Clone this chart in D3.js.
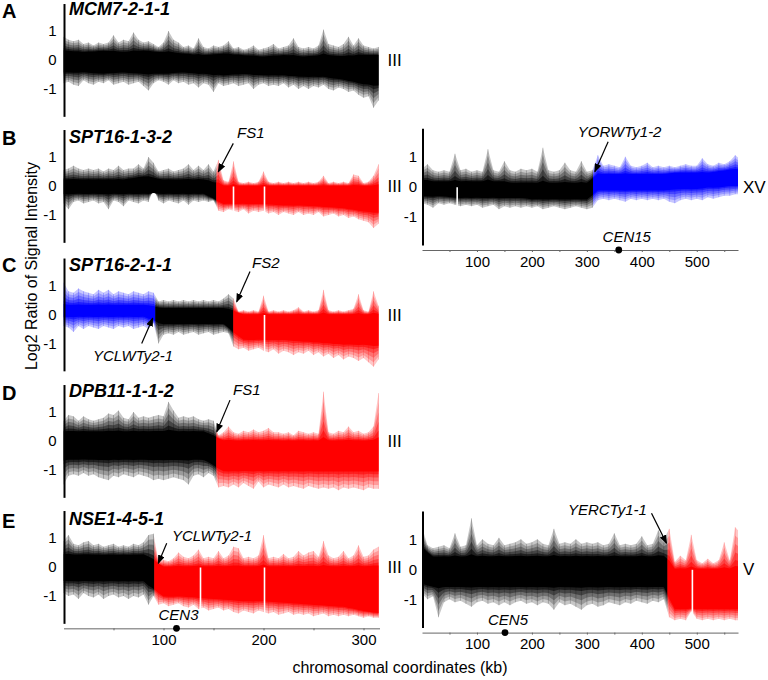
<!DOCTYPE html>
<html lang="en">
<head>
<meta charset="UTF-8">
<title>Log2 signal ratio along chromosomes III, XV and V</title>
<script src="https://d3js.org/d3.v7.min.js"></script>
<style>
body { margin: 0; background: #fff; }
svg text { font-family: Arial, "Liberation Sans", Helvetica, sans-serif; fill: #000; }
.letter { font-size: 20px; font-weight: bold; }
.gene { font-size: 18px; font-weight: bold; font-style: italic; }
.note { font-size: 15px; font-style: italic; }
.chrom { font-size: 17px; }
.title { font-size: 16px; }
.tick text { font-size: 15px; }
</style>
</head>
<body>
<svg width="768" height="680"></svg>
<script>
// Log2 ratio of signal intensity.
// hi / lo = envelope of the probe spikes (every 5 kb on chr III, every 10 kb on chr XV / V)
// coreHi / coreLo = dense part of the signal (every 20 kb)

// A  MCM7-2-1-1, chr III
const aHi = [0.8,0.7,0.65,0.7,0.55,0.6,0.5,0.6,0.55,0.6, 0.85,0.6,0.7,0.65,0.95,0.7,0.6,0.65,0.55,0.45,
  0.6,1.0,0.7,0.6,0.45,0.5,0.4,0.75,0.45,0.4, 0.5,0.45,0.5,0.65,0.4,0.45,0.35,0.4,0.5,0.35,
  0.4,0.45,0.55,0.4,0.45,0.5,0.75,0.45,0.4,0.45, 0.4,0.5,1.05,0.55,0.5,0.45,0.55,0.8,0.5,0.75, 0.5,0.45,0.4,0.45];
const aLo = [-0.8,-0.75,-0.85,-0.9,-0.7,-0.8,-0.85,-0.75,-0.8,-0.7, -0.85,-0.8,-0.75,-0.85,-0.8,-0.75,-0.9,-1.05,-0.8,-0.7,
  -0.75,-0.85,-0.7,-0.8,-0.75,-0.85,-0.8,-0.95,-0.8,-0.85, -1.1,-0.8,-0.9,-0.85,-0.8,-0.9,-0.85,-0.8,-1.0,-0.85,
  -0.8,-0.9,-0.85,-0.9,-0.8,-0.95,-0.85,-1.0,-0.9,-1.0, -0.9,-0.95,-0.85,-1.0,-1.05,-0.95,-1.0,-1.1,-1.05,-1.2, -1.3,-1.25,-1.65,-1.4];
const aCoreHi = [0.3,0.25,0.3,0.25,0.3,0.25,0.2,0.15,0.2,0.15,0.1,0.15,0.1,0.15,0.1,0.15,0.15];
const aCoreLo = [-0.4,-0.4,-0.45,-0.4,-0.45,-0.45,-0.4,-0.45,-0.5,-0.45,-0.5,-0.5,-0.55,-0.55,-0.65,-0.8,-0.85];
const aSegs = [[0, 316, 'k']];

// B  SPT16-1-3-2, chr III
const bHi = [0.55,0.6,0.7,0.6,0.55,0.6,0.55,0.6,0.5,0.6, 0.55,0.7,0.55,0.6,0.6,0.75,0.6,1.0,0.8,0.5,
  0.55,0.6,0.5,0.55,0.6,0.75,0.55,0.7,0.55,0.75, 0.5,0.9,0.2,0.15,0.85,0.15,0.1,0.15,0.1,0.15,
  0.5,0.15,0.1,0.15,0.1,0.15,0.1,0.15,0.1,0.15, 0.1,0.15,0.35,0.1,0.15,0.1,0.15,0.1,0.4,0.35, 0.1,0.15,0.35,0.75];
const bLo = [-0.6,-0.8,-0.55,-0.5,-0.6,-0.55,-0.5,-0.6,-0.55,-0.8, -0.5,-0.55,-0.7,-0.5,-0.55,-0.6,-0.5,-0.55,-0.1,-0.5,
  -0.6,-0.5,-0.55,-0.6,-0.5,-0.65,-0.5,-0.55,-0.5,-0.55, -0.5,-0.85,-0.9,-0.8,-0.85,-0.9,-0.8,-0.95,-0.85,-0.9,
  -0.85,-0.95,-0.9,-1.0,-0.9,-0.95,-1.0,-0.9,-1.0,-0.95, -1.0,-0.9,-1.05,-1.0,-0.95,-1.05,-1.0,-1.1,-1.05,-1.15, -1.2,-1.25,-1.45,-1.3];
const bCoreHi = [0.2,0.2,0.2,0.2,0.3,0.2,0.2,0.2,0,0,0,0,0,0,0,0,0];
const bCoreLo = [-0.25,-0.25,-0.25,-0.25,-0.25,-0.25,-0.25,-0.25,-0.6,-0.6,-0.6,-0.65,-0.65,-0.7,-0.75,-0.85,-0.9];
const bSegs = [[0, 153, 'k'], [153, 316, 'r']];
const bGaps = [170, 201];

// B  SPT16-1-3-2, chr XV
const b2Hi = [0.6,0.75,0.55,0.5,0.55,0.5,1.1,0.55,0.6,0.5, 0.55,0.5,1.25,0.55,0.5,0.85,0.55,0.5,0.6,0.55,
  0.6,0.5,1.3,0.55,0.5,0.55,0.8,0.55,0.5,0.85, 0.5,0.55,1.05,0.7,0.75,0.7,0.65,1.0,0.7,0.65,
  0.7,0.8,0.65,0.7,0.65,0.7,0.65,0.7,0.75,0.7, 0.7,0.95,0.75,0.7,0.8,0.75,0.85,1.05,0.9];
const b2Lo = [-0.55,-0.6,-0.7,-0.55,-0.6,-0.55,-0.6,-0.65,-0.6,-0.65, -0.6,-0.7,-0.65,-0.6,-0.75,-0.65,-0.7,-0.65,-0.7,-0.65,
  -0.7,-0.65,-0.75,-0.7,-0.65,-0.7,-0.75,-0.7,-0.65,-0.7, -0.75,-0.7,-0.45,-0.4,-0.45,-0.4,-0.45,-0.5,-0.4,-0.45,
  -0.4,-0.45,-0.4,-0.45,-0.4,-0.5,-0.55,-0.45,-0.4,-0.45, -0.4,-0.45,-0.35,-0.4,-0.35,-0.3,-0.3,-0.25,-0.25];
const b2CoreHi = [0.2,0.15,0.15,0.15,0.15,0.15,0.15,0.15,0.1,0.1,0.1,0.1,0.1,0.1,0.1,0.1,
  0.4,0.4,0.4,0.4,0.4,0.4,0.4,0.45,0.45,0.45,0.45,0.5,0.55,0.55];
const b2CoreLo = [-0.3,-0.3,-0.3,-0.35,-0.35,-0.35,-0.35,-0.35,-0.35,-0.35,-0.4,-0.4,-0.4,-0.4,-0.4,-0.4,
  -0.1,-0.1,-0.1,-0.1,-0.1,-0.1,-0.1,-0.05,-0.05,-0.05,0,0,0.05,0.05];
const b2Segs = [[0, 311, 'k'], [311, 575, 'b']];
const b2Gaps = [64];

// C  SPT16-2-1-1, chr III
const cHi = [1.1,0.8,0.75,0.9,0.8,0.75,0.7,0.85,0.75,0.85, 0.7,0.8,0.75,0.7,0.8,0.75,0.7,0.8,0.75,0.45,
  0.5,0.45,0.5,0.45,0.5,0.45,0.5,0.45,0.5,0.45, 0.5,0.45,0.55,0.7,0.55,0.1,0.15,0.1,0.15,0.1,
  0.65,0.1,0.15,0.1,0.15,0.1,0.15,0.25,0.1,0.15, 0.1,0.15,0.85,0.15,0.1,0.15,0.1,0.15,0.2,0.7, 0.15,0.1,0.8,0.3];
const cLo = [-0.4,-0.45,-0.6,-0.4,-0.5,-0.4,-0.45,-0.5,-0.4,-0.45, -0.5,-0.4,-0.45,-0.4,-0.5,-0.45,-0.4,-0.5,-0.3,-1.0,
  -0.7,-0.65,-0.7,-0.6,-0.7,-0.65,-0.6,-0.7,-0.65,-0.6, -0.7,-0.65,-0.6,-0.65,-1.1,-1.2,-1.15,-1.25,-1.2,-1.15,
  -1.25,-1.3,-1.2,-1.35,-1.25,-1.3,-1.4,-1.3,-1.35,-1.25, -1.4,-1.3,-1.45,-1.35,-1.5,-1.4,-1.55,-1.45,-1.5,-1.6, -1.5,-1.65,-1.8,-1.55];
const cCoreHi = [0.3,0.3,0.3,0.3,0.3,0.2,0.2,0.2,0.2,0,0,0,0,0,0,0,0];
const cCoreLo = [-0.05,-0.05,-0.05,-0.05,-0.05,-0.3,-0.3,-0.3,-0.3,-0.85,-0.85,-0.85,-0.9,-0.95,-1.0,-1.0,-1.05];
const cSegs = [[0, 92, 'b'], [92, 170, 'k'], [170, 316, 'r']];
const cGaps = [201];

// D  DPB11-1-1-2, chr III
const dHi = [0.7,0.9,0.85,0.7,0.85,0.75,0.7,0.75,0.8,0.95, 0.9,1.05,0.8,0.75,1.0,0.8,0.85,0.8,0.85,0.9,
  0.85,1.35,1.05,0.8,0.85,0.8,0.85,0.75,0.7,0.75, 0.7,0.2,0.3,0.5,0.3,0.25,0.35,0.3,0.4,0.3,
  0.35,0.45,0.3,0.3,0.25,0.3,0.2,0.35,0.3,0.25, 0.3,0.25,1.7,0.3,0.25,0.35,0.3,0.5,0.3,0.35, 0.25,0.3,0.5,1.65];
const dLo = [-1.5,-1.2,-1.15,-1.2,-1.1,-1.2,-1.15,-1.25,-1.3,-1.35, -1.2,-1.25,-1.15,-1.2,-1.25,-1.15,-1.2,-1.25,-1.35,-1.3,
  -1.35,-1.3,-1.25,-1.3,-1.35,-1.5,-1.2,-1.15,-1.25,-1.1, -1.2,-1.6,-1.55,-1.6,-1.5,-1.6,-1.45,-1.55,-1.65,-1.4,
  -1.6,-1.5,-1.55,-1.6,-1.5,-1.6,-1.55,-1.6,-1.65,-1.55, -1.6,-1.65,-1.6,-1.65,-1.6,-1.7,-1.6,-1.65,-1.6,-1.65, -1.7,-1.6,-1.65,-1.65];
const dCoreHi = [0.3,0.3,0.3,0.3,0.3,0.3,0.3,0.3,0,0,0,0,0,0,0,0,0];
const dCoreLo = [-0.6,-0.6,-0.6,-0.6,-0.6,-0.6,-0.6,-0.6,-1.0,-1.0,-1.0,-1.0,-1.0,-1.0,-1.0,-1.0,-1.0];
const dSegs = [[0, 153, 'k'], [153, 316, 'r']];

// E  NSE1-4-5-1, chr III
const eHi = [0.9,1.1,0.8,0.75,0.85,0.9,0.75,0.8,0.7,0.75, 0.8,0.7,0.75,0.7,0.8,0.75,0.85,1.1,1.15,0.2,
  0.25,0.2,0.3,0.5,0.35,0.3,0.4,0.6,0.3,0.35, 0.3,0.55,0.3,0.4,0.7,0.65,0.3,0.35,0.3,0.4,
  1.1,0.3,0.35,0.3,0.45,0.3,0.35,0.55,0.4,0.5, 0.55,0.35,0.9,0.4,0.3,0.35,0.55,0.3,0.4,0.75, 0.35,0.4,0.6,0.7];
const eLo = [-0.9,-1.0,-0.95,-1.1,-0.9,-1.0,-1.05,-0.95,-1.1,-1.0, -0.95,-1.05,-1.0,-1.1,-1.0,-1.05,-0.95,-1.3,-1.0,-1.3,
  -1.25,-1.35,-1.3,-1.25,-1.35,-1.4,-1.3,-1.45,-1.4,-1.5, -1.45,-1.4,-1.5,-1.45,-1.55,-1.6,-1.5,-1.55,-1.6,-1.5,
  -1.55,-1.6,-1.55,-1.65,-1.6,-1.55,-1.65,-1.6,-1.65,-1.6, -1.7,-1.65,-1.6,-1.7,-1.65,-1.7,-1.65,-1.7,-1.65,-1.7, -1.75,-1.7,-1.75,-1.75];
const eCoreHi = [0.4,0.4,0.4,0.4,0.4,0,0,0,0,0,0,0,0,0,0,0,0];
const eCoreLo = [-0.45,-0.45,-0.45,-0.45,-0.45,-1.0,-1.0,-1.05,-1.1,-1.15,-1.15,-1.2,-1.25,-1.3,-1.35,-1.5,-1.6];
const eSegs = [[0, 91, 'k'], [91, 316, 'r']];
const eGaps = [137, 201];

// E  NSE1-4-5-1, chr V
const e2Hi = [1.4,0.8,0.7,0.75,0.8,0.7,1.2,0.75,0.8,1.7, 0.8,1.0,0.85,0.8,1.05,0.8,0.85,0.9,1.0,0.85,
  0.9,1.0,0.85,0.8,1.35,0.85,0.9,0.85,1.0,0.85, 0.9,0.85,0.9,0.8,0.85,1.2,0.8,0.85,0.8,0.85,
  1.1,0.8,0.85,1.3,1.0,1.35,0.25,0.45,0.3,1.15, 0.3,0.2,0.35,0.2,0.3,0.9,0.3,1.4,1.2];
const e2Lo = [-0.8,-1.0,-0.9,-1.6,-1.1,-1.0,-1.1,-1.05,-1.15,-1.25, -1.1,-1.05,-1.15,-1.1,-1.2,-1.1,-1.2,-1.1,-1.05,-1.15,
  -1.1,-1.2,-1.1,-1.15,-1.35,-1.1,-1.2,-1.15,-1.25,-1.35, -1.2,-1.15,-1.25,-1.2,-1.1,-1.15,-1.2,-1.1,-1.15,-1.05,
  -1.1,-1.15,-1.05,-1.1,-1.0,-1.6,-1.7,-1.65,-1.7,-1.4, -1.65,-1.7,-1.65,-1.7,-1.65,-1.7,-1.65,-1.7,-1.7];
const e2CoreHi = [0.7,0.4,0.4,0.4,0.4,0.4,0.4,0.4,0.4,0.4,0.4,0.4,0.4,0.4,0.4,0.4,0.4,0.4,0.4,0.4,0.4,0.4,0.4,
  0,0,0,0,0,0,0];
const e2CoreLo = [-0.45,-0.55,-0.55,-0.55,-0.55,-0.55,-0.55,-0.55,-0.55,-0.55,-0.55,-0.55,-0.55,-0.55,-0.55,-0.55,-0.55,-0.55,-0.55,-0.55,-0.55,-0.55,-0.55,
  -1.3,-1.3,-1.3,-1.3,-1.3,-1.3,-1.3];
const e2Segs = [[0, 447, 'k'], [447, 575, 'r']];
const e2Gaps = [492];

const yTicks = [-1, 0, 1];
const xTicksIII = [50, 100, 150, 200, 250, 300];
const xTicksWide = [50, 100, 150, 200, 250, 300, 350, 400, 450, 500, 550];

// ---------------------------------------------------------------
const svg = d3.select('svg');
const colors = {k: '#000000', r: '#ff0000', b: '#0000ff'};

const xL = d3.scaleLinear().domain([0, 316]).range([63.5, 379.5]);
const xR = d3.scaleLinear().domain([0, 575]).range([422, 738]);
const yAt = (y0, unit) => d3.scaleLinear().domain([-1, 1]).range([y0 + unit, y0 - unit]);

const panels = [
  {letter: 'A', ly: 18, gene: 'MCM7-2-1-1', gy: 15, chrom: 'III', x: xL, y: yAt(60, 29),
   hi: aHi, lo: aLo, step: 5, coreHi: aCoreHi, coreLo: aCoreLo, segs: aSegs, gaps: []},
  {letter: 'B', ly: 145, gene: 'SPT16-1-3-2', gy: 143, chrom: 'III', x: xL, y: yAt(186, 29),
   hi: bHi, lo: bLo, step: 5, coreHi: bCoreHi, coreLo: bCoreLo, segs: bSegs, gaps: bGaps},
  {chrom: 'XV', x: xR, y: yAt(186.7, 30), xAxis: xTicksWide,
   hi: b2Hi, lo: b2Lo, step: 10, coreHi: b2CoreHi, coreLo: b2CoreLo, segs: b2Segs, gaps: b2Gaps},
  {letter: 'C', ly: 272, gene: 'SPT16-2-1-1', gy: 271, chrom: 'III', x: xL, y: yAt(314.5, 29),
   hi: cHi, lo: cLo, step: 5, coreHi: cCoreHi, coreLo: cCoreLo, segs: cSegs, gaps: cGaps},
  {letter: 'D', ly: 400, gene: 'DPB11-1-1-2', gy: 397, chrom: 'III', x: xL, y: yAt(441, 29),
   hi: dHi, lo: dLo, step: 5, coreHi: dCoreHi, coreLo: dCoreLo, segs: dSegs, gaps: []},
  {letter: 'E', ly: 528, gene: 'NSE1-4-5-1', gy: 525, chrom: 'III', x: xL, y: yAt(567, 29), xAxis: xTicksIII,
   hi: eHi, lo: eLo, step: 5, coreHi: eCoreHi, coreLo: eCoreLo, segs: eSegs, gaps: eGaps},
  {chrom: 'V', x: xR, y: yAt(569.3, 30), xAxis: xTicksWide,
   hi: e2Hi, lo: e2Lo, step: 10, coreHi: e2CoreHi, coreLo: e2CoreLo, segs: e2Segs, gaps: e2Gaps}
];

// arrow head
svg.append('defs').append('marker')
  .attr('id', 'head').attr('markerUnits', 'userSpaceOnUse')
  .attr('markerWidth', 9).attr('markerHeight', 7)
  .attr('refX', 8).attr('refY', 3.5).attr('orient', 'auto')
  .append('path').attr('d', 'M0,0L9,3.5L0,7Z').attr('fill', '#000');

const band = d3.area().x(d => d.px).y0(d => d.py0).y1(d => d.py1);
// density shading: fraction of the way from the dense core out to the spike tips, and its opacity
const layers = [[1, 0.22], [0.8, 0.22], [0.6, 0.28], [0.4, 0.38], [0.22, 0.55], [0.08, 1]];

panels.forEach((p, i) => {
  const g = svg.append('g');
  const coreKb = p.coreHi.map((d, j) => j * 20);
  const cHiAt = d3.scaleLinear().domain(coreKb).range(p.coreHi);
  const cLoAt = d3.scaleLinear().domain(coreKb).range(p.coreLo);
  const probes = p.hi.map((h, j) => ({kb: j * p.step, top: h, bot: p.lo[j]}));

  const shell = t => probes.map(d => ({
    px: p.x(d.kb),
    py1: p.y(cHiAt(d.kb) + t * (d.top - cHiAt(d.kb))),
    py0: p.y(cLoAt(d.kb) + t * (d.bot - cLoAt(d.kb)))
  }));

  p.segs.forEach(([a, b, c], k) => {
    const id = `clip${i}_${k}`;
    svg.select('defs').append('clipPath').attr('id', id)
      .append('rect').attr('x', p.x(a)).attr('y', 0)
      .attr('width', p.x(b) - p.x(a)).attr('height', 680);
    const sg = g.append('g').attr('clip-path', `url(#${id})`);
    layers.forEach(([t, o]) => {
      sg.append('path').attr('d', band(shell(t))).attr('fill', colors[c]).attr('fill-opacity', o);
    });
    sg.selectAll('line').data(probes).join('line')
      .attr('x1', d => p.x(d.kb)).attr('x2', d => p.x(d.kb))
      .attr('y1', d => p.y(d.bot)).attr('y2', d => p.y(d.top))
      .attr('stroke', colors[c]).attr('stroke-width', 0.6).attr('stroke-opacity', 0.35);
  });

  // probe gaps
  g.selectAll('.gap').data(p.gaps).join('line').attr('class', 'gap')
    .attr('x1', d => p.x(d)).attr('x2', d => p.x(d))
    .attr('y1', p.y(0) + 0.5).attr('y2', p.y(-1.95))
    .attr('stroke', '#fff').attr('stroke-width', 1.6);

  // y axis
  const ax = svg.append('g').attr('transform', `translate(${p.x(0)},0)`)
    .call(d3.axisLeft(p.y).tickValues(yTicks).tickSize(0)
      .tickPadding(p.x === xL ? 7 : 5).tickFormat(d => String(d)));
  ax.select('.domain').remove();
  svg.append('line')
    .attr('x1', p.x(0) + 1).attr('x2', p.x(0) + 1)
    .attr('y1', p.y(1.93)).attr('y2', p.y(-1.96))
    .attr('stroke', '#000').attr('stroke-width', 2);

  svg.append('text').attr('class', 'chrom')
    .attr('x', p.x.range()[1] + (p.x === xL ? 8 : 5)).attr('y', p.y(0) + 6)
    .text(p.chrom);

  if (p.letter) {
    svg.append('text').attr('class', 'letter').attr('x', 2).attr('y', p.ly).text(p.letter);
    svg.append('text').attr('class', 'gene').attr('x', 69).attr('y', p.gy).text(p.gene);
  }

  if (p.xAxis) {
    const base = p.y(-1.96) + 4.5;
    const xa = svg.append('g').attr('transform', `translate(0,${base})`)
      .call(d3.axisBottom(p.x).tickValues(p.xAxis).tickSize(2).tickSizeOuter(0)
        .tickPadding(4).tickFormat(d => d % 100 ? '' : d));
    xa.select('.domain').attr('stroke', '#666');
    xa.selectAll('.tick line').attr('stroke', '#666');
    p.base = base;
  }
});

// annotations: arrow head / tail and label start in (kb, log2) of the panel
const notes = [
  {p: 1, text: 'FS1', head: [154.8, 0.49], tail: [169.8, 1.47], label: [173.5, 1.66]},
  {p: 2, text: 'YORWTy1-2', head: [314.5, 0.5], tail: [338.7, 1.5], label: [283.6, 1.66]},
  {p: 3, text: 'FS2', head: [173.2, 0.44], tail: [186.5, 1.48], label: [188.5, 1.6]},
  {p: 3, text: 'YCLWTy2-1', head: [89.2, -0.13], tail: [78.2, -1.0], label: [29.5, -1.6]},
  {p: 4, text: 'FS1', head: [153.2, 0.32], tail: [166.5, 1.41], label: [169.5, 1.59]},
  {p: 5, text: 'YCLWTy2-1', head: [94.8, 0.13], tail: [103.2, 0.82], label: [108.5, 0.9]},
  {p: 6, text: 'YERCTy1-1', head: [444.9, 0.87], tail: [417.6, 1.87], label: [265.5, 1.81]}
];
notes.forEach(n => {
  const p = panels[n.p];
  svg.append('line')
    .attr('x1', p.x(n.tail[0])).attr('y1', p.y(n.tail[1]))
    .attr('x2', p.x(n.head[0])).attr('y2', p.y(n.head[1]))
    .attr('stroke', '#000').attr('stroke-width', 1.2).attr('marker-end', 'url(#head)');
  svg.append('text').attr('class', 'note')
    .attr('x', p.x(n.label[0])).attr('y', p.y(n.label[1])).text(n.text);
});

// centromeres on the coordinate axes
const cens = [
  {p: 2, kb: 358, name: 'CEN15', dx: 8},
  {p: 5, kb: 113, name: 'CEN3', dx: 2},
  {p: 6, kb: 151, name: 'CEN5', dx: 3}
];
cens.forEach(c => {
  const p = panels[c.p];
  svg.append('circle').attr('cx', p.x(c.kb)).attr('cy', p.base).attr('r', 3.4).attr('fill', '#000');
  svg.append('text').attr('class', 'note').attr('text-anchor', 'middle')
    .attr('x', p.x(c.kb) + c.dx).attr('y', p.base - 8).text(c.name);
});

svg.append('text').attr('class', 'title').attr('text-anchor', 'middle')
  .attr('transform', 'translate(37,266) rotate(-90)')
  .text('Log2 Ratio of Signal Intensity');
svg.append('text').attr('class', 'title').attr('text-anchor', 'middle')
  .attr('x', 400).attr('y', 673).text('chromosomal coordinates (kb)');
</script>
</body>
</html>
